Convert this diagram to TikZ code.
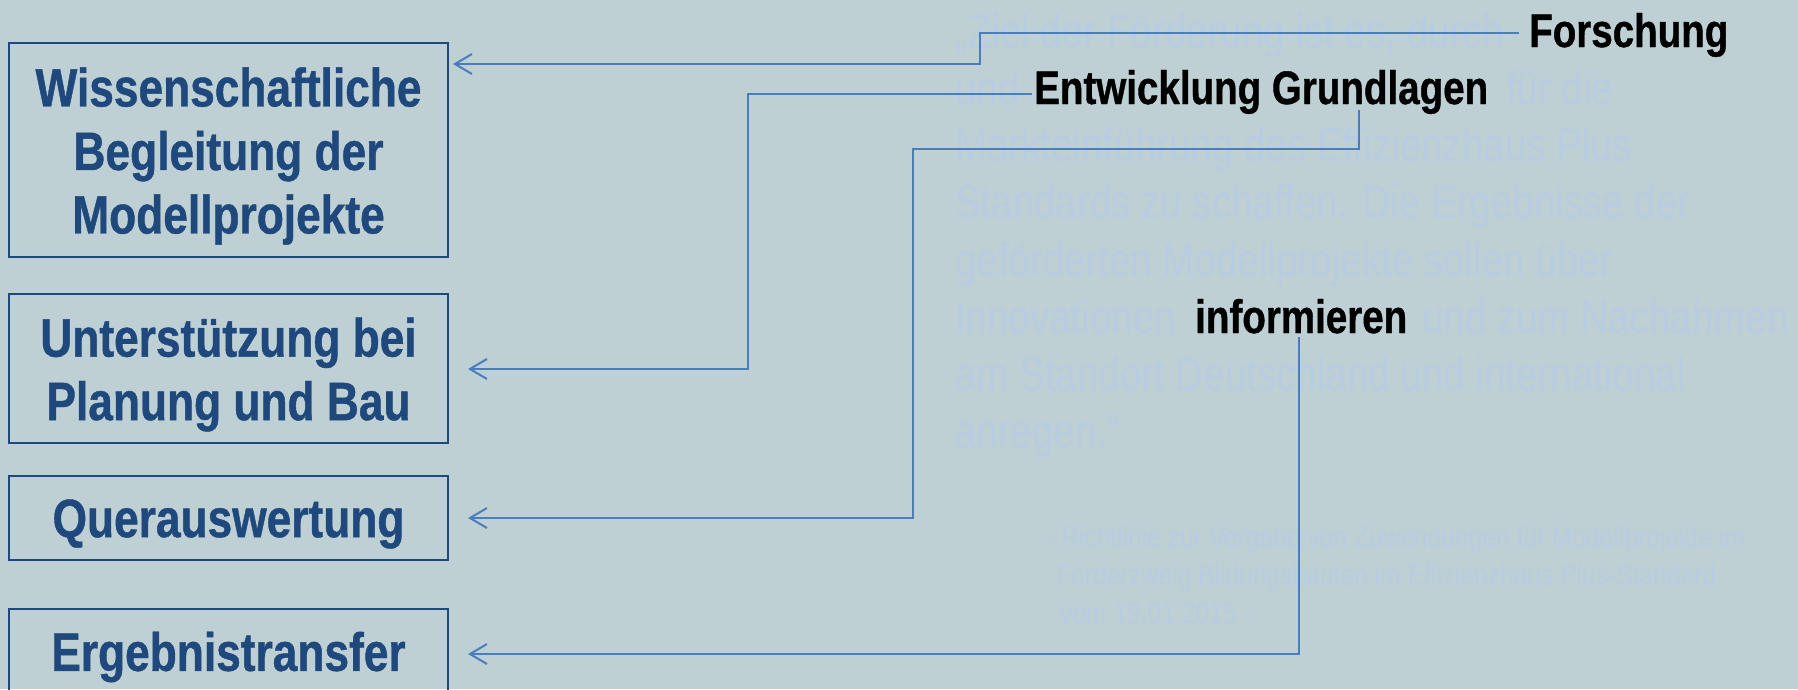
\documentclass[tikz,border=0pt]{standalone}
\usepackage{fontspec}
\setmainfont[FakeStretch=0.82,BoldFeatures={FakeBold=0.8}]{Liberation Sans}
\usetikzlibrary{arrows.meta}
\definecolor{bg}{HTML}{BED0D4}
\definecolor{navy}{HTML}{1F497D}
\definecolor{connc}{HTML}{4A7EBB}
\definecolor{faint}{HTML}{B9CDE2}
\begin{document}
\begin{tikzpicture}[x=1pt,y=-1pt,
 box/.style={draw=navy,line width=2.5pt,minimum width=439pt,inner sep=0pt},
 boxtext/.style={text=navy,font=\bfseries\fontsize{54}{63.5}\selectfont,align=center,yshift=-6pt},
 lab/.style={anchor=base west,inner sep=0pt,font=\bfseries\fontsize{47}{56}\selectfont,text=black},
 bgtext/.style={anchor=base west,inner sep=0pt,font=\fontsize{47}{56}\selectfont,text=faint},
 note/.style={anchor=base west,inner sep=0pt,font=\fontsize{30}{38}\selectfont,text=faint},
 link/.style={draw=connc,line width=2pt,-{Straight Barb[length=17pt,width=20pt]}}]
\useasboundingbox[fill=bg] (0,0) rectangle (1798,689);
% faint background paragraph
\node[bgtext] (p1) at (955,47) {„Ziel der Förderung ist es, durch};
\node[bgtext] (p2a) at (955,104) {und};
\node[bgtext] (p2b) at (1506,104) {für die};
\node[bgtext] (p3) at (955,161) {Markteinführung des Effizienzhaus Plus};
\node[bgtext] (p4) at (955,218) {Standards zu schaffen. Die Ergebnisse der};
\node[bgtext] (p5) at (955,276) {geförderten Modellprojekte sollen über};
\node[bgtext] (p6a) at (955,333) {Innovationen};
\node[bgtext] (p6b) at (1422,333) {und zum Nachahmen};
\node[bgtext] (p7) at (955,390) {am Standort Deutschland und international};
\node[bgtext] (p8) at (955,447) {anregen.“};
\node[note] (n1) at (1046,547) {- Richtlinie zur Vergabe von Zuwendungen für Modellprojekte im};
\node[note] (n2) at (1056,585) {Förderzweig Bildungsbauten im Effizienzhaus Plus-Standard};
\node[note] (n3) at (1060,623) {vom 19.01.2015 -};
% boxes
\node[box,minimum height=214pt,label={[boxtext]center:{Wissenschaftliche\\Begleitung der\\Modellprojekte}}] (b1) at (228.5,150) {};
\node[box,minimum height=149pt,label={[boxtext]center:{Unterstützung bei\\Planung und Bau}}] (b2) at (228.5,368.5) {};
\node[box,minimum height=84pt,label={[boxtext]center:{Querauswertung}}] (b3) at (228.5,518) {};
\node[box,minimum height=84pt,label={[boxtext]center:{Ergebnistransfer}}] (b4) at (228.5,651) {};
% labels
\node[lab] (fo) at (1529,47) {Forschung};
\node[lab] (eg) at (1034,104) {Entwicklung Grundlagen};
\node[lab] (inf) at (1195,333) {informieren};
% connector ends
\coordinate (s1) at (1519,33);
\coordinate (s2) at (1032,94);
\coordinate (s3) at (1359,110);
\coordinate (s4) at (1299,337);
\coordinate (t1) at (453,64);
\coordinate (t2) at (468,369);
\coordinate (t3) at (468,518);
\coordinate (t4) at (468,654);
\draw[link] (s1) -- (980,33) -- (980,64) -- (t1);
\draw[link] (s2) -- (748,94) -- (748,369) -- (t2);
\draw[link] (s3) -- (1359,149) -- (913,149) -- (913,518) -- (t3);
\draw[link] (s4) -- (1299,654) -- (t4);
\end{tikzpicture}
\end{document}
